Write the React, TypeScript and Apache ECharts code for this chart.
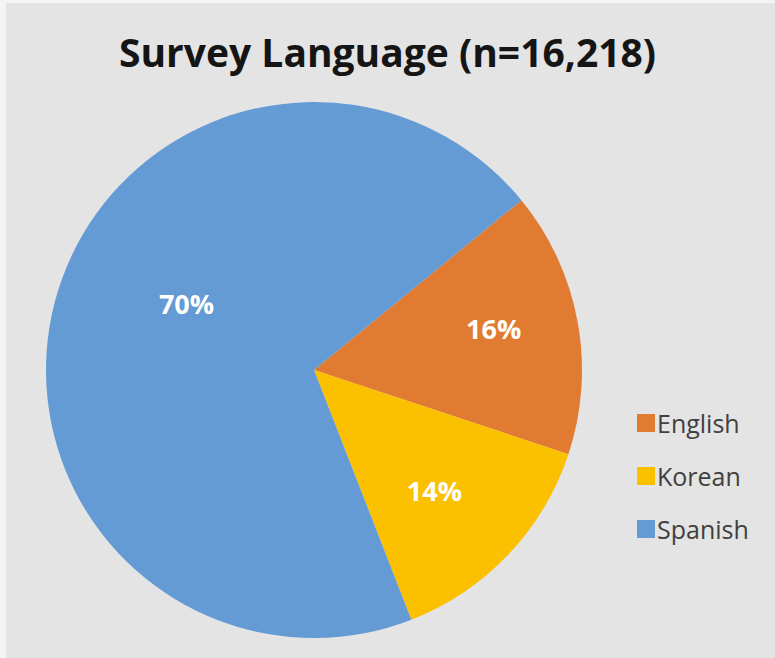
import React, { useEffect, useRef } from "react";
import * as echarts from "echarts";

const categories = ["English", "Korean", "Spanish"];
const values = [16, 14, 70];
const colors = ["#e27b32", "#fbc000", "#649bd4"];
const titleText = "Survey Language (n=16,218)";

export default function App() {
  const ref = useRef<HTMLDivElement>(null);
  useEffect(() => {
    document.body.style.margin = "0";
    const chart = echarts.init(ref.current!, null, { renderer: "svg" });
    const labelOffsets: number[][] = [
      [45, -17],
      [21, 26],
      [5, -32],
    ];
    chart.setOption({
      animation: false,
      backgroundColor: "#f4f4f4",
      graphic: [
        {
          type: "rect",
          z: -10,
          shape: { x: 6, y: 3, width: 775, height: 658 },
          style: { fill: "#e4e4e4" },
          silent: true,
        },
      ],
      title: {
        text: titleText,
        left: "center",
        top: 27,
        textStyle: {
          fontFamily: "Open Sans",
          fontWeight: "bold",
          fontSize: 39,
          color: "#151515",
        },
      },
      legend: {
        orient: "vertical",
        left: 632,
        top: 405,
        icon: "rect",
        itemWidth: 18,
        itemHeight: 18,
        itemGap: 27,
        data: categories,
        textStyle: {
          fontFamily: "Open Sans",
          fontSize: 25,
          lineHeight: 26,
          color: "#404040",
          padding: [0, 0, 0, -3],
        },
      },
      series: [
        {
          type: "pie",
          center: [314, 370],
          radius: 268,
          startAngle: 39.3,
          clockwise: true,
          itemStyle: { borderWidth: 0 },
          label: {
            show: true,
            position: "inside",
            formatter: "{c}%",
            color: "#ffffff",
            fontFamily: "Open Sans",
            fontWeight: "bold",
            fontSize: 27,
          },
          labelLine: { show: false },
          data: categories.map((name, i) => ({
            name,
            value: values[i],
            itemStyle: { color: colors[i] },
            label: { offset: labelOffsets[i] },
          })),
        },
      ],
    });
    return () => chart.dispose();
  }, []);
  return <div ref={ref} style={{ width: 775, height: 658 }} />;
}
